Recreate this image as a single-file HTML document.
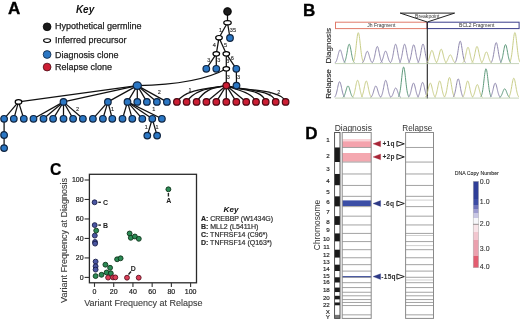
<!DOCTYPE html>
<html><head><meta charset="utf-8"><style>
html,body{margin:0;padding:0;background:#fff;}
body{width:520px;height:321px;overflow:hidden;}
svg{display:block;font-family:"Liberation Sans", sans-serif;will-change:transform;}
</style></head><body>
<svg width="520" height="321" viewBox="0 0 520 321" font-family='"Liberation Sans", sans-serif'>
<rect width="520" height="321" fill="#fff"/>
<text x="8.00" y="13.70" font-size="17.0" fill="#000" font-weight="bold" font-style="normal" text-anchor="start" stroke="#000" stroke-width="0.35" >A</text>
<text x="75.90" y="12.70" font-size="10" fill="#111" font-weight="bold" font-style="italic" text-anchor="start" >Key</text>
<circle cx="47.1" cy="26.8" r="3.9" fill="#1a1a1a" stroke="#000" stroke-width="0.8"/>
<ellipse cx="47.1" cy="40.6" rx="3.5" ry="1.85" fill="#fff" stroke="#000" stroke-width="1.1"/>
<circle cx="47.1" cy="54.5" r="3.9" fill="#2b77c4" stroke="#0f2440" stroke-width="0.8"/>
<circle cx="47.1" cy="67.05" r="3.9" fill="#cc1e34" stroke="#4a0a14" stroke-width="0.8"/>
<text x="55.00" y="28.90" font-size="9" fill="#1e1e1e" font-weight="normal" font-style="normal" text-anchor="start" stroke="#1e1e1e" stroke-width="0.25" >Hypothetical germline</text>
<text x="55.00" y="43.30" font-size="9" fill="#1e1e1e" font-weight="normal" font-style="normal" text-anchor="start" stroke="#1e1e1e" stroke-width="0.25" >Inferred precursor</text>
<text x="55.00" y="57.90" font-size="9" fill="#1e1e1e" font-weight="normal" font-style="normal" text-anchor="start" stroke="#1e1e1e" stroke-width="0.25" >Diagnosis clone</text>
<text x="55.00" y="69.90" font-size="9" fill="#1e1e1e" font-weight="normal" font-style="normal" text-anchor="start" stroke="#1e1e1e" stroke-width="0.25" >Relapse clone</text>
<g stroke="#111" stroke-width="1.25" fill="none"><line x1="227.5" y1="11.4" x2="227.5" y2="22.7"/><line x1="227.5" y1="22.7" x2="219" y2="37.7"/><line x1="227.5" y1="22.7" x2="230" y2="38"/><line x1="219" y1="37.7" x2="216.3" y2="53.8"/><line x1="219" y1="37.7" x2="226.3" y2="53.8"/><line x1="216.3" y1="53.8" x2="206.3" y2="68.8"/><line x1="216.3" y1="53.8" x2="216.3" y2="68.8"/><line x1="226.3" y1="53.8" x2="226.3" y2="68.8"/><line x1="226.3" y1="53.8" x2="236.3" y2="68.8"/><line x1="226.3" y1="68.8" x2="226.3" y2="85.6"/><line x1="236.3" y1="68.8" x2="236.5" y2="85.6"/><path d="M137.3,85.6 Q198,84.6 226.3,68.8"/><line x1="137.3" y1="85.6" x2="18.5" y2="101.9"/><line x1="137.3" y1="85.6" x2="63.5" y2="101.9"/><line x1="137.3" y1="85.6" x2="107.9" y2="101.9"/><line x1="137.3" y1="85.6" x2="127.5" y2="101.9"/><line x1="137.3" y1="85.6" x2="137.3" y2="101.9"/><line x1="137.3" y1="85.6" x2="146.9" y2="101.9"/><line x1="137.3" y1="85.6" x2="156.9" y2="101.9"/><line x1="137.3" y1="85.6" x2="166.9" y2="101.9"/><line x1="18.5" y1="101.9" x2="4.1" y2="118.8"/><line x1="18.5" y1="101.9" x2="13.8" y2="118.8"/><line x1="18.5" y1="101.9" x2="23.8" y2="118.8"/><line x1="4.1" y1="118.8" x2="4.1" y2="135"/><line x1="4.1" y1="135" x2="4.1" y2="148.1"/><line x1="63.5" y1="101.9" x2="33.5" y2="118.8"/><line x1="63.5" y1="101.9" x2="43.5" y2="118.8"/><line x1="63.5" y1="101.9" x2="53.1" y2="118.8"/><line x1="63.5" y1="101.9" x2="63.5" y2="118.8"/><line x1="63.5" y1="101.9" x2="73.1" y2="118.8"/><line x1="63.5" y1="101.9" x2="82.9" y2="118.8"/><line x1="107.9" y1="101.9" x2="92.9" y2="118.8"/><line x1="107.9" y1="101.9" x2="102.9" y2="118.8"/><line x1="107.9" y1="101.9" x2="112.3" y2="118.8"/><line x1="127.5" y1="101.9" x2="122.5" y2="118.8"/><line x1="127.5" y1="101.9" x2="132.3" y2="118.8"/><line x1="127.5" y1="101.9" x2="142.3" y2="118.8"/><line x1="127.5" y1="101.9" x2="152.3" y2="118.8"/><line x1="127.5" y1="101.9" x2="161.9" y2="118.8"/><line x1="152.3" y1="118.8" x2="147.3" y2="135.6"/><line x1="152.3" y1="118.8" x2="157.1" y2="135.6"/><path d="M226.3,85.6 C214,88.2 185.9,88.0 176.9,101.9"/><path d="M226.3,85.6 C214,88.2 195.6,88.0 186.6,101.9"/><path d="M226.3,85.6 C214,88.2 205.6,88.0 196.6,101.9"/><line x1="226.3" y1="85.6" x2="206.4" y2="101.9"/><line x1="226.3" y1="85.6" x2="216.3" y2="101.9"/><line x1="226.3" y1="85.6" x2="226.3" y2="101.9"/><line x1="226.3" y1="85.6" x2="236.3" y2="101.9"/><line x1="226.3" y1="85.6" x2="246.2" y2="101.9"/><path d="M226.3,85.6 C236,90 252.0,92 256.0,101.9"/><path d="M226.3,85.6 C240,90.8 262.7,88.6 265.7,101.9"/><path d="M226.3,85.6 C240,90.8 272.7,88.6 275.7,101.9"/><path d="M226.3,85.6 C240,90.8 282.6,88.6 285.6,101.9"/></g>
<circle cx="227.5" cy="11.4" r="3.7" fill="#1c1c1c" stroke="#000" stroke-width="1.1"/><ellipse cx="227.5" cy="22.7" rx="3.7" ry="2.1" fill="#fff" stroke="#000" stroke-width="1.25"/><ellipse cx="219" cy="37.7" rx="3.3" ry="2.2" fill="#fff" stroke="#000" stroke-width="1.2"/><circle cx="230" cy="38" r="3.3" fill="#2b77c4" stroke="#0f2440" stroke-width="1.2"/><ellipse cx="216.3" cy="53.8" rx="3.3" ry="2.2" fill="#fff" stroke="#000" stroke-width="1.2"/><ellipse cx="226.3" cy="53.8" rx="3.3" ry="2.2" fill="#fff" stroke="#000" stroke-width="1.2"/><circle cx="206.3" cy="68.8" r="3.3" fill="#2b77c4" stroke="#0f2440" stroke-width="1.2"/><circle cx="216.3" cy="68.8" r="3.3" fill="#2b77c4" stroke="#0f2440" stroke-width="1.2"/><ellipse cx="226.3" cy="68.8" rx="3.3" ry="2.2" fill="#fff" stroke="#000" stroke-width="1.2"/><circle cx="236.3" cy="68.8" r="3.3" fill="#2b77c4" stroke="#0f2440" stroke-width="1.2"/><circle cx="226.3" cy="85.6" r="3.3" fill="#cc1e34" stroke="#4a0a14" stroke-width="1.2"/><circle cx="236.5" cy="85.6" r="3.3" fill="#2b77c4" stroke="#0f2440" stroke-width="1.2"/><ellipse cx="137.3" cy="85.6" rx="4.1" ry="3.7" fill="#2b77c4" stroke="#0f2440" stroke-width="1.2"/><ellipse cx="18.5" cy="101.9" rx="3.3" ry="2.2" fill="#fff" stroke="#000" stroke-width="1.2"/><circle cx="63.5" cy="101.9" r="3.3" fill="#2b77c4" stroke="#0f2440" stroke-width="1.2"/><circle cx="107.9" cy="101.9" r="3.3" fill="#2b77c4" stroke="#0f2440" stroke-width="1.2"/><circle cx="127.5" cy="101.9" r="3.3" fill="#2b77c4" stroke="#0f2440" stroke-width="1.2"/><circle cx="137.3" cy="101.9" r="3.3" fill="#2b77c4" stroke="#0f2440" stroke-width="1.2"/><circle cx="146.9" cy="101.9" r="3.3" fill="#2b77c4" stroke="#0f2440" stroke-width="1.2"/><circle cx="156.9" cy="101.9" r="3.3" fill="#2b77c4" stroke="#0f2440" stroke-width="1.2"/><circle cx="166.9" cy="101.9" r="3.3" fill="#2b77c4" stroke="#0f2440" stroke-width="1.2"/><circle cx="4.1" cy="118.8" r="3.3" fill="#2b77c4" stroke="#0f2440" stroke-width="1.2"/><circle cx="13.8" cy="118.8" r="3.3" fill="#2b77c4" stroke="#0f2440" stroke-width="1.2"/><circle cx="23.8" cy="118.8" r="3.3" fill="#2b77c4" stroke="#0f2440" stroke-width="1.2"/><circle cx="33.5" cy="118.8" r="3.3" fill="#2b77c4" stroke="#0f2440" stroke-width="1.2"/><circle cx="43.5" cy="118.8" r="3.3" fill="#2b77c4" stroke="#0f2440" stroke-width="1.2"/><circle cx="53.1" cy="118.8" r="3.3" fill="#2b77c4" stroke="#0f2440" stroke-width="1.2"/><circle cx="63.5" cy="118.8" r="3.3" fill="#2b77c4" stroke="#0f2440" stroke-width="1.2"/><circle cx="73.1" cy="118.8" r="3.3" fill="#2b77c4" stroke="#0f2440" stroke-width="1.2"/><circle cx="82.9" cy="118.8" r="3.3" fill="#2b77c4" stroke="#0f2440" stroke-width="1.2"/><circle cx="92.9" cy="118.8" r="3.3" fill="#2b77c4" stroke="#0f2440" stroke-width="1.2"/><circle cx="102.9" cy="118.8" r="3.3" fill="#2b77c4" stroke="#0f2440" stroke-width="1.2"/><circle cx="112.3" cy="118.8" r="3.3" fill="#2b77c4" stroke="#0f2440" stroke-width="1.2"/><circle cx="122.5" cy="118.8" r="3.3" fill="#2b77c4" stroke="#0f2440" stroke-width="1.2"/><circle cx="132.3" cy="118.8" r="3.3" fill="#2b77c4" stroke="#0f2440" stroke-width="1.2"/><circle cx="142.3" cy="118.8" r="3.3" fill="#2b77c4" stroke="#0f2440" stroke-width="1.2"/><circle cx="152.3" cy="118.8" r="3.3" fill="#2b77c4" stroke="#0f2440" stroke-width="1.2"/><circle cx="161.9" cy="118.8" r="3.3" fill="#2b77c4" stroke="#0f2440" stroke-width="1.2"/><circle cx="4.1" cy="135" r="3.3" fill="#2b77c4" stroke="#0f2440" stroke-width="1.2"/><circle cx="4.1" cy="148.1" r="3.3" fill="#2b77c4" stroke="#0f2440" stroke-width="1.2"/><circle cx="147.3" cy="135.6" r="3.3" fill="#2b77c4" stroke="#0f2440" stroke-width="1.2"/><circle cx="157.1" cy="135.6" r="3.3" fill="#2b77c4" stroke="#0f2440" stroke-width="1.2"/><circle cx="176.9" cy="101.9" r="3.3" fill="#cc1e34" stroke="#4a0a14" stroke-width="1.2"/><circle cx="186.6" cy="101.9" r="3.3" fill="#cc1e34" stroke="#4a0a14" stroke-width="1.2"/><circle cx="196.6" cy="101.9" r="3.3" fill="#cc1e34" stroke="#4a0a14" stroke-width="1.2"/><circle cx="206.4" cy="101.9" r="3.3" fill="#cc1e34" stroke="#4a0a14" stroke-width="1.2"/><circle cx="216.3" cy="101.9" r="3.3" fill="#cc1e34" stroke="#4a0a14" stroke-width="1.2"/><circle cx="226.3" cy="101.9" r="3.3" fill="#cc1e34" stroke="#4a0a14" stroke-width="1.2"/><circle cx="236.3" cy="101.9" r="3.3" fill="#cc1e34" stroke="#4a0a14" stroke-width="1.2"/><circle cx="246.2" cy="101.9" r="3.3" fill="#cc1e34" stroke="#4a0a14" stroke-width="1.2"/><circle cx="256.0" cy="101.9" r="3.3" fill="#cc1e34" stroke="#4a0a14" stroke-width="1.2"/><circle cx="265.7" cy="101.9" r="3.3" fill="#cc1e34" stroke="#4a0a14" stroke-width="1.2"/><circle cx="275.7" cy="101.9" r="3.3" fill="#cc1e34" stroke="#4a0a14" stroke-width="1.2"/><circle cx="285.6" cy="101.9" r="3.3" fill="#cc1e34" stroke="#4a0a14" stroke-width="1.2"/>
<text x="220.6" y="31.8" font-size="5.5" fill="#333" stroke="#333" stroke-width="0.15" text-anchor="middle">1</text><text x="232.9" y="31.8" font-size="5.5" fill="#333" stroke="#333" stroke-width="0.15" text-anchor="middle">35</text><text x="214.4" y="47.4" font-size="5.5" fill="#333" stroke="#333" stroke-width="0.15" text-anchor="middle">4</text><text x="225.6" y="47.4" font-size="5.5" fill="#333" stroke="#333" stroke-width="0.15" text-anchor="middle">5</text><text x="208.8" y="61.8" font-size="5.5" fill="#333" stroke="#333" stroke-width="0.15" text-anchor="middle">3</text><text x="218.8" y="61.8" font-size="5.5" fill="#333" stroke="#333" stroke-width="0.15" text-anchor="middle">3</text><text x="227.9" y="63.4" font-size="5.5" fill="#333" stroke="#333" stroke-width="0.15" text-anchor="middle">3</text><text x="232.3" y="59.9" font-size="5.5" fill="#333" stroke="#333" stroke-width="0.15" text-anchor="middle">6</text><text x="228.3" y="78.7" font-size="5.5" fill="#333" stroke="#333" stroke-width="0.15" text-anchor="middle">3</text><text x="238.6" y="78.7" font-size="5.5" fill="#333" stroke="#333" stroke-width="0.15" text-anchor="middle">3</text><text x="159.4" y="94.3" font-size="5.5" fill="#333" stroke="#333" stroke-width="0.15" text-anchor="middle">2</text><text x="77.5" y="111.2" font-size="5.5" fill="#333" stroke="#333" stroke-width="0.15" text-anchor="middle">2</text><text x="112.5" y="111.2" font-size="5.5" fill="#333" stroke="#333" stroke-width="0.15" text-anchor="middle">1</text><text x="153.8" y="111.2" font-size="5.5" fill="#333" stroke="#333" stroke-width="0.15" text-anchor="middle">1</text><text x="146.3" y="128.70000000000002" font-size="5.5" fill="#333" stroke="#333" stroke-width="0.15" text-anchor="middle">1</text><text x="157.0" y="128.70000000000002" font-size="5.5" fill="#333" stroke="#333" stroke-width="0.15" text-anchor="middle">1</text><text x="190" y="92.39999999999999" font-size="5.5" fill="#333" stroke="#333" stroke-width="0.15" text-anchor="middle">1</text><text x="270" y="96.2" font-size="5.5" fill="#333" stroke="#333" stroke-width="0.15" text-anchor="middle">1</text><text x="278.8" y="94.3" font-size="5.5" fill="#333" stroke="#333" stroke-width="0.15" text-anchor="middle">2</text>
<text x="303.10" y="16.40" font-size="17.0" fill="#000" font-weight="bold" font-style="normal" text-anchor="start" stroke="#000" stroke-width="0.35" >B</text>
<rect x="335.5" y="22.2" width="91.5" height="6.4" fill="#fff" stroke="#e07a6a" stroke-width="1"/>
<rect x="427.3" y="22.2" width="91.8" height="6.4" fill="#fff" stroke="#3a3c8a" stroke-width="1"/>
<text x="381.30" y="27.30" font-size="5" fill="#333" font-weight="normal" font-style="normal" text-anchor="middle" >Jh Fragment</text>
<text x="476.70" y="27.30" font-size="5" fill="#333" font-weight="normal" font-style="normal" text-anchor="middle" >BCL2 Fragment</text>
<path d="M400.2,13.1 L454.6,13.1 L427.3,22.0 Z" fill="#fff" stroke="#222" stroke-width="1"/>
<text x="427.30" y="18.30" font-size="5.1" fill="#333" font-weight="normal" font-style="normal" text-anchor="middle" >Breakpoint</text>
<line x1="427.3" y1="22" x2="427.3" y2="98.6" stroke="#222" stroke-width="1.1"/>
<text transform="translate(331.0,45.8) rotate(-90)" font-size="8.1" fill="#222" stroke="#222" stroke-width="0.12" text-anchor="middle">Diagnosis</text>
<text transform="translate(331.0,84.0) rotate(-90)" font-size="8.1" fill="#222" stroke="#222" stroke-width="0.12" text-anchor="middle">Relapse</text>
<polyline points="334.85,62.87 335.11,62.69 335.38,62.47 335.64,62.17 335.90,61.80 336.16,61.35 336.43,60.79 336.69,60.14 336.95,59.38 337.21,58.53 337.48,57.58 337.74,56.57 338.00,55.51 338.26,54.44 338.53,53.39 338.79,52.41 339.05,51.53 339.31,50.80 339.58,50.26 339.84,49.92 340.10,49.80 340.36,49.92 340.62,50.26 340.89,50.80 341.15,51.53 341.41,52.41 341.68,53.39 341.94,54.44 342.20,55.51 342.46,56.57 342.73,57.58 342.99,58.53 343.25,59.38 343.51,60.14 343.78,60.79 344.04,61.35 344.30,61.80 344.56,62.17 344.83,62.47 345.09,62.69 345.35,62.87" fill="none" stroke="#8f88ae" stroke-width="1.0"/><polyline points="343.95,62.69 344.21,62.44 344.47,62.12 344.74,61.71 345.00,61.18 345.26,60.54 345.52,59.76 345.79,58.83 346.05,57.76 346.31,56.55 346.57,55.21 346.84,53.78 347.10,52.28 347.36,50.76 347.62,49.28 347.89,47.89 348.15,46.65 348.41,45.62 348.68,44.85 348.94,44.36 349.20,44.20 349.46,44.36 349.72,44.85 349.99,45.62 350.25,46.65 350.51,47.89 350.77,49.28 351.04,50.76 351.30,52.28 351.56,53.78 351.82,55.21 352.09,56.55 352.35,57.76 352.61,58.83 352.88,59.76 353.14,60.54 353.40,61.18 353.66,61.71 353.93,62.12 354.19,62.44 354.45,62.69" fill="none" stroke="#5f9a7c" stroke-width="1.0"/><polyline points="353.05,62.32 353.31,61.92 353.57,61.41 353.84,60.75 354.10,59.91 354.36,58.87 354.62,57.62 354.89,56.14 355.15,54.42 355.41,52.48 355.68,50.34 355.94,48.05 356.20,45.65 356.46,43.22 356.73,40.84 356.99,38.62 357.25,36.63 357.51,34.98 357.78,33.73 358.04,32.96 358.30,32.70 358.56,32.96 358.82,33.73 359.09,34.98 359.35,36.63 359.61,38.62 359.88,40.84 360.14,43.22 360.40,45.65 360.66,48.05 360.93,50.34 361.19,52.48 361.45,54.42 361.71,56.14 361.98,57.62 362.24,58.87 362.50,59.91 362.76,60.75 363.03,61.41 363.29,61.92 363.55,62.32" fill="none" stroke="#c9ce88" stroke-width="1.0"/><polyline points="362.05,62.91 362.31,62.76 362.57,62.56 362.84,62.30 363.10,61.97 363.36,61.56 363.62,61.07 363.89,60.49 364.15,59.82 364.41,59.06 364.68,58.22 364.94,57.32 365.20,56.38 365.46,55.42 365.73,54.49 365.99,53.62 366.25,52.84 366.51,52.19 366.78,51.71 367.04,51.40 367.30,51.30 367.56,51.40 367.82,51.71 368.09,52.19 368.35,52.84 368.61,53.62 368.88,54.49 369.14,55.42 369.40,56.38 369.66,57.32 369.93,58.22 370.19,59.06 370.45,59.82 370.71,60.49 370.98,61.07 371.24,61.56 371.50,61.97 371.76,62.30 372.03,62.56 372.29,62.76 372.55,62.91" fill="none" stroke="#8f88ae" stroke-width="1.0"/><polyline points="372.05,62.76 372.31,62.54 372.57,62.26 372.84,61.90 373.10,61.44 373.36,60.87 373.62,60.18 373.89,59.37 374.15,58.43 374.41,57.36 374.68,56.19 374.94,54.92 375.20,53.61 375.46,52.27 375.73,50.97 375.99,49.75 376.25,48.66 376.51,47.75 376.78,47.07 377.04,46.64 377.30,46.50 377.56,46.64 377.82,47.07 378.09,47.75 378.35,48.66 378.61,49.75 378.88,50.97 379.14,52.27 379.40,53.61 379.66,54.92 379.93,56.19 380.19,57.36 380.45,58.43 380.71,59.37 380.98,60.18 381.24,60.87 381.50,61.44 381.76,61.90 382.03,62.26 382.29,62.54 382.55,62.76" fill="none" stroke="#8f88ae" stroke-width="1.0"/><polyline points="380.35,62.91 380.61,62.75 380.88,62.55 381.14,62.28 381.40,61.95 381.66,61.54 381.93,61.04 382.19,60.44 382.45,59.76 382.71,58.99 382.98,58.13 383.24,57.22 383.50,56.26 383.76,55.29 384.03,54.35 384.29,53.46 384.55,52.67 384.81,52.01 385.08,51.51 385.34,51.20 385.60,51.10 385.86,51.20 386.12,51.51 386.39,52.01 386.65,52.67 386.91,53.46 387.18,54.35 387.44,55.29 387.70,56.26 387.96,57.22 388.23,58.13 388.49,58.99 388.75,59.76 389.01,60.44 389.28,61.04 389.54,61.54 389.80,61.95 390.06,62.28 390.33,62.55 390.59,62.75 390.85,62.91" fill="none" stroke="#8f88ae" stroke-width="1.0"/><polyline points="390.35,62.69 390.61,62.44 390.88,62.12 391.14,61.71 391.40,61.18 391.66,60.54 391.93,59.76 392.19,58.83 392.45,57.76 392.71,56.55 392.98,55.21 393.24,53.78 393.50,52.28 393.76,50.76 394.03,49.28 394.29,47.89 394.55,46.65 394.81,45.62 395.08,44.85 395.34,44.36 395.60,44.20 395.86,44.36 396.12,44.85 396.39,45.62 396.65,46.65 396.91,47.89 397.18,49.28 397.44,50.76 397.70,52.28 397.96,53.78 398.23,55.21 398.49,56.55 398.75,57.76 399.01,58.83 399.28,59.76 399.54,60.54 399.80,61.18 400.06,61.71 400.33,62.12 400.59,62.44 400.85,62.69" fill="none" stroke="#8f88ae" stroke-width="1.0"/><polyline points="399.35,62.69 399.61,62.44 399.88,62.12 400.14,61.71 400.40,61.18 400.66,60.54 400.93,59.76 401.19,58.83 401.45,57.76 401.71,56.55 401.98,55.21 402.24,53.78 402.50,52.28 402.76,50.76 403.03,49.28 403.29,47.89 403.55,46.65 403.81,45.62 404.08,44.85 404.34,44.36 404.60,44.20 404.86,44.36 405.12,44.85 405.39,45.62 405.65,46.65 405.91,47.89 406.18,49.28 406.44,50.76 406.70,52.28 406.96,53.78 407.23,55.21 407.49,56.55 407.75,57.76 408.01,58.83 408.28,59.76 408.54,60.54 408.80,61.18 409.06,61.71 409.33,62.12 409.59,62.44 409.85,62.69" fill="none" stroke="#8f88ae" stroke-width="1.0"/><polyline points="408.45,62.71 408.71,62.47 408.97,62.16 409.24,61.76 409.50,61.25 409.76,60.62 410.02,59.87 410.29,58.97 410.55,57.93 410.81,56.76 411.07,55.47 411.34,54.08 411.60,52.63 411.86,51.16 412.12,49.72 412.39,48.38 412.65,47.18 412.91,46.18 413.18,45.43 413.44,44.96 413.70,44.80 413.96,44.96 414.22,45.43 414.49,46.18 414.75,47.18 415.01,48.38 415.27,49.72 415.54,51.16 415.80,52.63 416.06,54.08 416.32,55.47 416.59,56.76 416.85,57.93 417.11,58.97 417.38,59.87 417.64,60.62 417.90,61.25 418.16,61.76 418.43,62.16 418.69,62.47 418.95,62.71" fill="none" stroke="#8f88ae" stroke-width="1.0"/><polyline points="417.75,62.68 418.01,62.43 418.27,62.11 418.54,61.69 418.80,61.16 419.06,60.51 419.32,59.72 419.59,58.78 419.85,57.70 420.11,56.48 420.38,55.13 420.64,53.68 420.90,52.16 421.16,50.63 421.43,49.14 421.69,47.73 421.95,46.48 422.21,45.44 422.48,44.65 422.74,44.17 423.00,44.00 423.26,44.17 423.52,44.65 423.79,45.44 424.05,46.48 424.31,47.73 424.57,49.14 424.84,50.63 425.10,52.16 425.36,53.68 425.62,55.13 425.89,56.48 426.15,57.70 426.41,58.78 426.68,59.72 426.94,60.51 427.20,61.16 427.46,61.69 427.73,62.11 427.99,62.43 428.25,62.68" fill="none" stroke="#8f88ae" stroke-width="1.0"/><polyline points="426.65,62.89 426.91,62.72 427.17,62.50 427.44,62.22 427.70,61.87 427.96,61.43 428.22,60.91 428.49,60.28 428.75,59.56 429.01,58.74 429.27,57.84 429.54,56.87 429.80,55.86 430.06,54.83 430.32,53.83 430.59,52.89 430.85,52.06 431.11,51.36 431.38,50.84 431.64,50.51 431.90,50.40 432.16,50.51 432.42,50.84 432.69,51.36 432.95,52.06 433.21,52.89 433.47,53.83 433.74,54.83 434.00,55.86 434.26,56.87 434.52,57.84 434.79,58.74 435.05,59.56 435.31,60.28 435.57,60.91 435.84,61.43 436.10,61.87 436.36,62.22 436.62,62.50 436.89,62.72 437.15,62.89" fill="none" stroke="#c9ce88" stroke-width="1.0"/><polyline points="435.95,62.85 436.21,62.67 436.47,62.43 436.74,62.12 437.00,61.74 437.26,61.26 437.52,60.68 437.79,60.00 438.05,59.21 438.31,58.32 438.57,57.33 438.84,56.27 439.10,55.17 439.36,54.05 439.62,52.95 439.89,51.93 440.15,51.01 440.41,50.25 440.68,49.68 440.94,49.32 441.20,49.20 441.46,49.32 441.72,49.68 441.99,50.25 442.25,51.01 442.51,51.93 442.77,52.95 443.04,54.05 443.30,55.17 443.56,56.27 443.82,57.33 444.09,58.32 444.35,59.21 444.61,60.00 444.88,60.68 445.14,61.26 445.40,61.74 445.66,62.12 445.93,62.43 446.19,62.67 446.45,62.85" fill="none" stroke="#c9ce88" stroke-width="1.0"/><polyline points="445.05,63.03 445.31,62.92 445.57,62.77 445.84,62.59 446.10,62.36 446.36,62.07 446.62,61.72 446.89,61.31 447.15,60.83 447.41,60.30 447.68,59.70 447.94,59.06 448.20,58.40 448.46,57.72 448.73,57.06 448.99,56.44 449.25,55.89 449.51,55.43 449.78,55.09 450.04,54.87 450.30,54.80 450.56,54.87 450.82,55.09 451.09,55.43 451.35,55.89 451.61,56.44 451.88,57.06 452.14,57.72 452.40,58.40 452.66,59.06 452.93,59.70 453.19,60.30 453.45,60.83 453.71,61.31 453.98,61.72 454.24,62.07 454.50,62.36 454.76,62.59 455.03,62.77 455.29,62.92 455.55,63.03" fill="none" stroke="#c9ce88" stroke-width="1.0"/><polyline points="454.95,62.59 455.21,62.30 455.47,61.93 455.74,61.45 456.00,60.84 456.26,60.09 456.52,59.18 456.79,58.10 457.05,56.86 457.31,55.45 457.57,53.90 457.84,52.23 458.10,50.49 458.36,48.73 458.62,47.01 458.89,45.39 459.15,43.95 459.41,42.75 459.68,41.85 459.94,41.29 460.20,41.10 460.46,41.29 460.72,41.85 460.99,42.75 461.25,43.95 461.51,45.39 461.77,47.01 462.04,48.73 462.30,50.49 462.56,52.23 462.82,53.90 463.09,55.45 463.35,56.86 463.61,58.10 463.88,59.18 464.14,60.09 464.40,60.84 464.66,61.45 464.93,61.93 465.19,62.30 465.45,62.59" fill="none" stroke="#8f88ae" stroke-width="1.0"/><polyline points="462.75,62.79 463.01,62.58 463.27,62.31 463.54,61.96 463.80,61.53 464.06,60.99 464.32,60.33 464.59,59.56 464.85,58.66 465.11,57.64 465.38,56.53 465.64,55.32 465.90,54.07 466.16,52.80 466.43,51.56 466.69,50.39 466.95,49.36 467.21,48.49 467.48,47.84 467.74,47.44 468.00,47.30 468.26,47.44 468.52,47.84 468.79,48.49 469.05,49.36 469.31,50.39 469.57,51.56 469.84,52.80 470.10,54.07 470.36,55.32 470.62,56.53 470.89,57.64 471.15,58.66 471.41,59.56 471.68,60.33 471.94,60.99 472.20,61.53 472.46,61.96 472.73,62.31 472.99,62.58 473.25,62.79" fill="none" stroke="#c9ce88" stroke-width="1.0"/><polyline points="471.75,62.76 472.01,62.54 472.27,62.26 472.54,61.90 472.80,61.44 473.06,60.87 473.32,60.18 473.59,59.37 473.85,58.43 474.11,57.36 474.38,56.19 474.64,54.92 474.90,53.61 475.16,52.27 475.43,50.97 475.69,49.75 475.95,48.66 476.21,47.75 476.48,47.07 476.74,46.64 477.00,46.50 477.26,46.64 477.52,47.07 477.79,47.75 478.05,48.66 478.31,49.75 478.57,50.97 478.84,52.27 479.10,53.61 479.36,54.92 479.62,56.19 479.89,57.36 480.15,58.43 480.41,59.37 480.68,60.18 480.94,60.87 481.20,61.44 481.46,61.90 481.73,62.26 481.99,62.54 482.25,62.76" fill="none" stroke="#c9ce88" stroke-width="1.0"/><polyline points="481.15,62.93 481.41,62.79 481.67,62.60 481.94,62.35 482.20,62.04 482.46,61.65 482.72,61.18 482.99,60.63 483.25,59.99 483.51,59.27 483.77,58.47 484.04,57.62 484.30,56.72 484.56,55.82 484.82,54.93 485.09,54.10 485.35,53.36 485.61,52.75 485.88,52.29 486.14,52.00 486.40,51.90 486.66,52.00 486.92,52.29 487.19,52.75 487.45,53.36 487.71,54.10 487.97,54.93 488.24,55.82 488.50,56.72 488.76,57.62 489.02,58.47 489.29,59.27 489.55,59.99 489.81,60.63 490.07,61.18 490.34,61.65 490.60,62.04 490.86,62.35 491.12,62.60 491.39,62.79 491.65,62.93" fill="none" stroke="#c9ce88" stroke-width="1.0"/><polyline points="490.95,62.63 491.21,62.37 491.47,62.02 491.74,61.57 492.00,61.01 492.26,60.31 492.52,59.46 492.79,58.46 493.05,57.29 493.31,55.98 493.57,54.54 493.84,52.98 494.10,51.36 494.36,49.71 494.62,48.11 494.89,46.60 495.15,45.26 495.41,44.14 495.68,43.30 495.94,42.78 496.20,42.60 496.46,42.78 496.72,43.30 496.99,44.14 497.25,45.26 497.51,46.60 497.77,48.11 498.04,49.71 498.30,51.36 498.56,52.98 498.82,54.54 499.09,55.98 499.35,57.29 499.61,58.46 499.88,59.46 500.14,60.31 500.40,61.01 500.66,61.57 500.93,62.02 501.19,62.37 501.45,62.63" fill="none" stroke="#8f88ae" stroke-width="1.0"/><polyline points="500.25,62.70 500.51,62.46 500.77,62.14 501.04,61.74 501.30,61.23 501.56,60.60 501.82,59.83 502.09,58.92 502.35,57.87 502.61,56.69 502.88,55.38 503.14,53.98 503.40,52.51 503.66,51.03 503.93,49.58 504.19,48.22 504.45,47.00 504.71,45.99 504.98,45.23 505.24,44.76 505.50,44.60 505.76,44.76 506.02,45.23 506.29,45.99 506.55,47.00 506.81,48.22 507.07,49.58 507.34,51.03 507.60,52.51 507.86,53.98 508.12,55.38 508.39,56.69 508.65,57.87 508.91,58.92 509.18,59.83 509.44,60.60 509.70,61.23 509.96,61.74 510.23,62.14 510.49,62.46 510.75,62.70" fill="none" stroke="#5f9a7c" stroke-width="1.0"/><polyline points="509.65,62.31 509.91,61.92 510.17,61.40 510.44,60.73 510.70,59.89 510.96,58.85 511.22,57.58 511.49,56.09 511.75,54.36 512.01,52.41 512.27,50.26 512.54,47.95 512.80,45.53 513.06,43.09 513.32,40.70 513.59,38.45 513.85,36.46 514.11,34.79 514.38,33.54 514.64,32.76 514.90,32.50 515.16,32.76 515.42,33.54 515.69,34.79 515.95,36.46 516.21,38.45 516.48,40.70 516.74,43.09 517.00,45.53 517.26,47.95 517.52,50.26 517.79,52.41 518.05,54.36 518.31,56.09 518.57,57.58 518.84,58.85 519.10,59.89 519.36,60.73 519.62,61.40 519.89,61.92 520.15,62.31" fill="none" stroke="#c9ce88" stroke-width="1.0"/><line x1="335" y1="63.599999999999994" x2="519" y2="63.599999999999994" stroke="#b8c8a8" stroke-width="0.8"/>
<polyline points="334.35,97.28 334.61,97.08 334.88,96.81 335.14,96.46 335.40,96.02 335.66,95.47 335.93,94.81 336.19,94.03 336.45,93.13 336.71,92.11 336.98,90.98 337.24,89.77 337.50,88.51 337.76,87.23 338.03,85.98 338.29,84.81 338.55,83.77 338.81,82.90 339.08,82.24 339.34,81.84 339.60,81.70 339.86,81.84 340.12,82.24 340.39,82.90 340.65,83.77 340.91,84.81 341.18,85.98 341.44,87.23 341.70,88.51 341.96,89.77 342.23,90.98 342.49,92.11 342.75,93.13 343.01,94.03 343.28,94.81 343.54,95.47 343.80,96.02 344.06,96.46 344.33,96.81 344.59,97.08 344.85,97.28" fill="none" stroke="#8f88ae" stroke-width="1.0"/><polyline points="342.75,97.42 343.01,97.27 343.27,97.06 343.54,96.81 343.80,96.48 344.06,96.08 344.32,95.59 344.59,95.02 344.85,94.35 345.11,93.59 345.38,92.76 345.64,91.87 345.90,90.93 346.16,89.99 346.43,89.07 346.69,88.20 346.95,87.43 347.21,86.79 347.48,86.30 347.74,86.00 348.00,85.90 348.26,86.00 348.52,86.30 348.79,86.79 349.05,87.43 349.31,88.20 349.57,89.07 349.84,89.99 350.10,90.93 350.36,91.87 350.62,92.76 350.89,93.59 351.15,94.35 351.41,95.02 351.68,95.59 351.94,96.08 352.20,96.48 352.46,96.81 352.73,97.06 352.99,97.27 353.25,97.42" fill="none" stroke="#5f9a7c" stroke-width="1.0"/><polyline points="352.35,97.24 352.61,97.01 352.88,96.72 353.14,96.34 353.40,95.86 353.66,95.27 353.93,94.55 354.19,93.70 354.45,92.72 354.71,91.61 354.98,90.39 355.24,89.08 355.50,87.70 355.76,86.31 356.03,84.96 356.29,83.68 356.55,82.55 356.81,81.60 357.08,80.89 357.34,80.45 357.60,80.30 357.86,80.45 358.12,80.89 358.39,81.60 358.65,82.55 358.91,83.68 359.18,84.96 359.44,86.31 359.70,87.70 359.96,89.08 360.23,90.39 360.49,91.61 360.75,92.72 361.01,93.70 361.28,94.55 361.54,95.27 361.80,95.86 362.06,96.34 362.33,96.72 362.59,97.01 362.85,97.24" fill="none" stroke="#c9ce88" stroke-width="1.0"/><polyline points="361.05,97.26 361.31,97.04 361.57,96.76 361.84,96.40 362.10,95.94 362.36,95.37 362.62,94.68 362.89,93.87 363.15,92.93 363.41,91.86 363.68,90.69 363.94,89.42 364.20,88.11 364.46,86.77 364.73,85.47 364.99,84.25 365.25,83.16 365.51,82.25 365.78,81.57 366.04,81.14 366.30,81.00 366.56,81.14 366.82,81.57 367.09,82.25 367.35,83.16 367.61,84.25 367.88,85.47 368.14,86.77 368.40,88.11 368.66,89.42 368.93,90.69 369.19,91.86 369.45,92.93 369.71,93.87 369.98,94.68 370.24,95.37 370.50,95.94 370.76,96.40 371.03,96.76 371.29,97.04 371.55,97.26" fill="none" stroke="#c9ce88" stroke-width="1.0"/><polyline points="370.55,97.42 370.81,97.27 371.07,97.07 371.34,96.82 371.60,96.49 371.86,96.09 372.12,95.61 372.39,95.04 372.65,94.38 372.91,93.63 373.18,92.80 373.44,91.92 373.70,90.99 373.96,90.06 374.23,89.14 374.49,88.28 374.75,87.52 375.01,86.88 375.28,86.40 375.54,86.10 375.80,86.00 376.06,86.10 376.32,86.40 376.59,86.88 376.85,87.52 377.11,88.28 377.38,89.14 377.64,90.06 377.90,90.99 378.16,91.92 378.43,92.80 378.69,93.63 378.95,94.38 379.21,95.04 379.48,95.61 379.74,96.09 380.00,96.49 380.26,96.82 380.53,97.07 380.79,97.27 381.05,97.42" fill="none" stroke="#8f88ae" stroke-width="1.0"/><polyline points="380.45,97.24 380.71,97.01 380.97,96.72 381.24,96.34 381.50,95.86 381.76,95.27 382.02,94.55 382.29,93.70 382.55,92.72 382.81,91.61 383.07,90.39 383.34,89.08 383.60,87.70 383.86,86.31 384.12,84.96 384.39,83.68 384.65,82.55 384.91,81.60 385.18,80.89 385.44,80.45 385.70,80.30 385.96,80.45 386.22,80.89 386.49,81.60 386.75,82.55 387.01,83.68 387.27,84.96 387.54,86.31 387.80,87.70 388.06,89.08 388.32,90.39 388.59,91.61 388.85,92.72 389.11,93.70 389.38,94.55 389.64,95.27 389.90,95.86 390.16,96.34 390.43,96.72 390.69,97.01 390.95,97.24" fill="none" stroke="#8f88ae" stroke-width="1.0"/><polyline points="390.45,97.48 390.71,97.36 390.97,97.19 391.24,96.98 391.50,96.71 391.76,96.38 392.02,95.98 392.29,95.51 392.55,94.96 392.81,94.34 393.07,93.65 393.34,92.91 393.60,92.15 393.86,91.37 394.12,90.61 394.39,89.89 394.65,89.26 394.91,88.73 395.18,88.33 395.44,88.08 395.70,88.00 395.96,88.08 396.22,88.33 396.49,88.73 396.75,89.26 397.01,89.89 397.27,90.61 397.54,91.37 397.80,92.15 398.06,92.91 398.32,93.65 398.59,94.34 398.85,94.96 399.11,95.51 399.38,95.98 399.64,96.38 399.90,96.71 400.16,96.98 400.43,97.19 400.69,97.36 400.95,97.48" fill="none" stroke="#8f88ae" stroke-width="1.0"/><polyline points="398.35,96.81 398.61,96.42 398.88,95.90 399.14,95.23 399.40,94.39 399.66,93.35 399.93,92.08 400.19,90.59 400.45,88.86 400.71,86.91 400.98,84.76 401.24,82.45 401.50,80.03 401.76,77.59 402.03,75.20 402.29,72.95 402.55,70.96 402.81,69.29 403.08,68.04 403.34,67.26 403.60,67.00 403.86,67.26 404.12,68.04 404.39,69.29 404.65,70.96 404.91,72.95 405.18,75.20 405.44,77.59 405.70,80.03 405.96,82.45 406.23,84.76 406.49,86.91 406.75,88.86 407.01,90.59 407.28,92.08 407.54,93.35 407.80,94.39 408.06,95.23 408.33,95.90 408.59,96.42 408.85,96.81" fill="none" stroke="#5f9a7c" stroke-width="1.0"/><polyline points="408.25,97.33 408.51,97.14 408.77,96.89 409.04,96.57 409.30,96.17 409.56,95.67 409.82,95.07 410.09,94.36 410.35,93.54 410.61,92.60 410.88,91.58 411.14,90.47 411.40,89.32 411.66,88.15 411.93,87.01 412.19,85.94 412.45,84.99 412.71,84.19 412.98,83.60 413.24,83.23 413.50,83.10 413.76,83.23 414.02,83.60 414.29,84.19 414.55,84.99 414.81,85.94 415.07,87.01 415.34,88.15 415.60,89.32 415.86,90.47 416.12,91.58 416.39,92.60 416.65,93.54 416.91,94.36 417.18,95.07 417.44,95.67 417.70,96.17 417.96,96.57 418.23,96.89 418.49,97.14 418.75,97.33" fill="none" stroke="#8f88ae" stroke-width="1.0"/><polyline points="417.35,97.30 417.61,97.11 417.88,96.85 418.14,96.51 418.40,96.09 418.66,95.57 418.93,94.94 419.19,94.20 419.45,93.33 419.71,92.36 419.98,91.28 420.24,90.12 420.50,88.91 420.76,87.69 421.03,86.50 421.29,85.38 421.55,84.38 421.81,83.55 422.08,82.92 422.34,82.53 422.60,82.40 422.86,82.53 423.12,82.92 423.39,83.55 423.65,84.38 423.91,85.38 424.18,86.50 424.44,87.69 424.70,88.91 424.96,90.12 425.23,91.28 425.49,92.36 425.75,93.33 426.01,94.20 426.28,94.94 426.54,95.57 426.80,96.09 427.06,96.51 427.33,96.85 427.59,97.11 427.85,97.30" fill="none" stroke="#8f88ae" stroke-width="1.0"/><polyline points="425.05,97.33 425.31,97.14 425.57,96.89 425.84,96.57 426.10,96.17 426.36,95.67 426.62,95.07 426.89,94.36 427.15,93.54 427.41,92.60 427.68,91.58 427.94,90.47 428.20,89.32 428.46,88.15 428.73,87.01 428.99,85.94 429.25,84.99 429.51,84.19 429.78,83.60 430.04,83.23 430.30,83.10 430.56,83.23 430.82,83.60 431.09,84.19 431.35,84.99 431.61,85.94 431.88,87.01 432.14,88.15 432.40,89.32 432.66,90.47 432.93,91.58 433.19,92.60 433.45,93.54 433.71,94.36 433.98,95.07 434.24,95.67 434.50,96.17 434.76,96.57 435.03,96.89 435.29,97.14 435.55,97.33" fill="none" stroke="#c9ce88" stroke-width="1.0"/><polyline points="434.45,97.26 434.71,97.04 434.97,96.76 435.24,96.40 435.50,95.94 435.76,95.37 436.02,94.68 436.29,93.87 436.55,92.93 436.81,91.86 437.07,90.69 437.34,89.42 437.60,88.11 437.86,86.77 438.12,85.47 438.39,84.25 438.65,83.16 438.91,82.25 439.18,81.57 439.44,81.14 439.70,81.00 439.96,81.14 440.22,81.57 440.49,82.25 440.75,83.16 441.01,84.25 441.27,85.47 441.54,86.77 441.80,88.11 442.06,89.42 442.32,90.69 442.59,91.86 442.85,92.93 443.11,93.87 443.38,94.68 443.64,95.37 443.90,95.94 444.16,96.40 444.43,96.76 444.69,97.04 444.95,97.26" fill="none" stroke="#c9ce88" stroke-width="1.0"/><polyline points="444.25,97.15 444.51,96.89 444.77,96.55 445.04,96.11 445.30,95.55 445.56,94.86 445.82,94.03 446.09,93.05 446.35,91.91 446.61,90.62 446.88,89.20 447.14,87.68 447.40,86.09 447.66,84.48 447.93,82.90 448.19,81.42 448.45,80.11 448.71,79.01 448.98,78.19 449.24,77.67 449.50,77.50 449.76,77.67 450.02,78.19 450.29,79.01 450.55,80.11 450.81,81.42 451.07,82.90 451.34,84.48 451.60,86.09 451.86,87.68 452.12,89.20 452.39,90.62 452.65,91.91 452.91,93.05 453.18,94.03 453.44,94.86 453.70,95.55 453.96,96.11 454.23,96.55 454.49,96.89 454.75,97.15" fill="none" stroke="#c9ce88" stroke-width="1.0"/><polyline points="452.95,97.19 453.21,96.95 453.47,96.63 453.74,96.22 454.00,95.71 454.26,95.07 454.52,94.29 454.79,93.38 455.05,92.32 455.31,91.12 455.57,89.80 455.84,88.38 456.10,86.90 456.36,85.40 456.62,83.93 456.89,82.55 457.15,81.33 457.41,80.31 457.68,79.54 457.94,79.06 458.20,78.90 458.46,79.06 458.72,79.54 458.99,80.31 459.25,81.33 459.51,82.55 459.77,83.93 460.04,85.40 460.30,86.90 460.56,88.38 460.82,89.80 461.09,91.12 461.35,92.32 461.61,93.38 461.88,94.29 462.14,95.07 462.40,95.71 462.66,96.22 462.93,96.63 463.19,96.95 463.45,97.19" fill="none" stroke="#8f88ae" stroke-width="1.0"/><polyline points="462.45,97.26 462.71,97.04 462.97,96.76 463.24,96.40 463.50,95.94 463.76,95.37 464.02,94.68 464.29,93.87 464.55,92.93 464.81,91.86 465.07,90.69 465.34,89.42 465.60,88.11 465.86,86.77 466.12,85.47 466.39,84.25 466.65,83.16 466.91,82.25 467.18,81.57 467.44,81.14 467.70,81.00 467.96,81.14 468.22,81.57 468.49,82.25 468.75,83.16 469.01,84.25 469.27,85.47 469.54,86.77 469.80,88.11 470.06,89.42 470.32,90.69 470.59,91.86 470.85,92.93 471.11,93.87 471.38,94.68 471.64,95.37 471.90,95.94 472.16,96.40 472.43,96.76 472.69,97.04 472.95,97.26" fill="none" stroke="#c9ce88" stroke-width="1.0"/><polyline points="472.05,97.38 472.31,97.21 472.57,96.98 472.84,96.70 473.10,96.34 473.36,95.89 473.62,95.35 473.89,94.71 474.15,93.97 474.41,93.13 474.68,92.21 474.94,91.22 475.20,90.18 475.46,89.14 475.73,88.11 475.99,87.15 476.25,86.30 476.51,85.58 476.78,85.05 477.04,84.71 477.30,84.60 477.56,84.71 477.82,85.05 478.09,85.58 478.35,86.30 478.61,87.15 478.88,88.11 479.14,89.14 479.40,90.18 479.66,91.22 479.93,92.21 480.19,93.13 480.45,93.97 480.71,94.71 480.98,95.35 481.24,95.89 481.50,96.34 481.76,96.70 482.03,96.98 482.29,97.21 482.55,97.38" fill="none" stroke="#c9ce88" stroke-width="1.0"/><polyline points="480.75,96.86 481.01,96.49 481.27,96.00 481.54,95.37 481.80,94.58 482.06,93.59 482.32,92.40 482.59,90.99 482.85,89.36 483.11,87.51 483.38,85.48 483.64,83.29 483.90,81.01 484.16,78.70 484.43,76.44 484.69,74.33 484.95,72.44 485.21,70.87 485.48,69.68 485.74,68.95 486.00,68.70 486.26,68.95 486.52,69.68 486.79,70.87 487.05,72.44 487.31,74.33 487.57,76.44 487.84,78.70 488.10,81.01 488.36,83.29 488.62,85.48 488.89,87.51 489.15,89.36 489.41,90.99 489.68,92.40 489.94,93.59 490.20,94.58 490.46,95.37 490.73,96.00 490.99,96.49 491.25,96.86" fill="none" stroke="#5f9a7c" stroke-width="1.0"/><polyline points="489.95,97.33 490.21,97.14 490.47,96.90 490.74,96.58 491.00,96.18 491.26,95.69 491.52,95.09 491.79,94.38 492.05,93.56 492.31,92.64 492.57,91.62 492.84,90.52 493.10,89.38 493.36,88.22 493.62,87.08 493.89,86.02 494.15,85.08 494.41,84.29 494.68,83.69 494.94,83.32 495.20,83.20 495.46,83.32 495.72,83.69 495.99,84.29 496.25,85.08 496.51,86.02 496.77,87.08 497.04,88.22 497.30,89.38 497.56,90.52 497.82,91.62 498.09,92.64 498.35,93.56 498.61,94.38 498.88,95.09 499.14,95.69 499.40,96.18 499.66,96.58 499.93,96.90 500.19,97.14 500.45,97.33" fill="none" stroke="#8f88ae" stroke-width="1.0"/><polyline points="499.45,97.51 499.71,97.40 499.97,97.24 500.24,97.05 500.50,96.80 500.76,96.50 501.02,96.13 501.29,95.69 501.55,95.19 501.81,94.62 502.07,93.99 502.34,93.31 502.60,92.61 502.86,91.89 503.12,91.19 503.39,90.54 503.65,89.96 503.91,89.47 504.18,89.10 504.44,88.88 504.70,88.80 504.96,88.88 505.22,89.10 505.49,89.47 505.75,89.96 506.01,90.54 506.27,91.19 506.54,91.89 506.80,92.61 507.06,93.31 507.32,93.99 507.59,94.62 507.85,95.19 508.11,95.69 508.38,96.13 508.64,96.50 508.90,96.80 509.16,97.05 509.43,97.24 509.69,97.40 509.95,97.51" fill="none" stroke="#5f9a7c" stroke-width="1.0"/><polyline points="508.55,97.17 508.81,96.92 509.07,96.59 509.34,96.16 509.60,95.63 509.86,94.97 510.12,94.16 510.39,93.21 510.65,92.11 510.91,90.87 511.17,89.50 511.44,88.03 511.70,86.49 511.96,84.94 512.22,83.42 512.49,81.99 512.75,80.72 513.01,79.66 513.27,78.86 513.54,78.37 513.80,78.20 514.06,78.37 514.32,78.86 514.59,79.66 514.85,80.72 515.11,81.99 515.38,83.42 515.64,84.94 515.90,86.49 516.16,88.03 516.42,89.50 516.69,90.87 516.95,92.11 517.21,93.21 517.47,94.16 517.74,94.97 518.00,95.63 518.26,96.16 518.52,96.59 518.79,96.92 519.05,97.17" fill="none" stroke="#c9ce88" stroke-width="1.0"/><line x1="335" y1="98.1" x2="519" y2="98.1" stroke="#b8c8a8" stroke-width="0.8"/>
<text x="50.10" y="174.60" font-size="15.8" fill="#000" font-weight="bold" font-style="normal" text-anchor="start" stroke="#000" stroke-width="0.2" >C</text>
<rect x="89.4" y="174.3" width="107.1" height="108.5" fill="none" stroke="#2a2a2a" stroke-width="1.3"/>
<line x1="84.6" y1="277.40" x2="89.4" y2="277.40" stroke="#333" stroke-width="1.1"/>
<text x="83.60" y="279.70" font-size="7" fill="#222" font-weight="normal" font-style="normal" text-anchor="end" stroke="#222" stroke-width="0.2" >0</text>
<line x1="94.50" y1="282.8" x2="94.50" y2="286.9" stroke="#333" stroke-width="1.1"/>
<text x="94.50" y="293.90" font-size="7" fill="#222" font-weight="normal" font-style="normal" text-anchor="middle" stroke="#222" stroke-width="0.2" >0</text>
<line x1="84.6" y1="257.92" x2="89.4" y2="257.92" stroke="#333" stroke-width="1.1"/>
<text x="83.60" y="260.22" font-size="7" fill="#222" font-weight="normal" font-style="normal" text-anchor="end" stroke="#222" stroke-width="0.2" >20</text>
<line x1="113.72" y1="282.8" x2="113.72" y2="286.9" stroke="#333" stroke-width="1.1"/>
<text x="113.72" y="293.90" font-size="7" fill="#222" font-weight="normal" font-style="normal" text-anchor="middle" stroke="#222" stroke-width="0.2" >20</text>
<line x1="84.6" y1="238.44" x2="89.4" y2="238.44" stroke="#333" stroke-width="1.1"/>
<text x="83.60" y="240.74" font-size="7" fill="#222" font-weight="normal" font-style="normal" text-anchor="end" stroke="#222" stroke-width="0.2" >40</text>
<line x1="132.94" y1="282.8" x2="132.94" y2="286.9" stroke="#333" stroke-width="1.1"/>
<text x="132.94" y="293.90" font-size="7" fill="#222" font-weight="normal" font-style="normal" text-anchor="middle" stroke="#222" stroke-width="0.2" >40</text>
<line x1="84.6" y1="218.96" x2="89.4" y2="218.96" stroke="#333" stroke-width="1.1"/>
<text x="83.60" y="221.26" font-size="7" fill="#222" font-weight="normal" font-style="normal" text-anchor="end" stroke="#222" stroke-width="0.2" >60</text>
<line x1="152.16" y1="282.8" x2="152.16" y2="286.9" stroke="#333" stroke-width="1.1"/>
<text x="152.16" y="293.90" font-size="7" fill="#222" font-weight="normal" font-style="normal" text-anchor="middle" stroke="#222" stroke-width="0.2" >60</text>
<line x1="84.6" y1="199.48" x2="89.4" y2="199.48" stroke="#333" stroke-width="1.1"/>
<text x="83.60" y="201.78" font-size="7" fill="#222" font-weight="normal" font-style="normal" text-anchor="end" stroke="#222" stroke-width="0.2" >80</text>
<line x1="171.38" y1="282.8" x2="171.38" y2="286.9" stroke="#333" stroke-width="1.1"/>
<text x="171.38" y="293.90" font-size="7" fill="#222" font-weight="normal" font-style="normal" text-anchor="middle" stroke="#222" stroke-width="0.2" >80</text>
<line x1="84.6" y1="180.00" x2="89.4" y2="180.00" stroke="#333" stroke-width="1.1"/>
<text x="83.60" y="182.30" font-size="7" fill="#222" font-weight="normal" font-style="normal" text-anchor="end" stroke="#222" stroke-width="0.2" >100</text>
<line x1="190.60" y1="282.8" x2="190.60" y2="286.9" stroke="#333" stroke-width="1.1"/>
<text x="190.60" y="293.90" font-size="7" fill="#222" font-weight="normal" font-style="normal" text-anchor="middle" stroke="#222" stroke-width="0.2" >100</text>
<text transform="translate(67.3,240.5) rotate(-90)" font-size="9" fill="#3c3c3c" stroke="#3c3c3c" stroke-width="0.1" text-anchor="middle">Variant Frequency at Diagnosis</text>
<text x="84.20" y="305.60" font-size="9" fill="#3c3c3c" font-weight="normal" font-style="normal" text-anchor="start" stroke="#3c3c3c" stroke-width="0.1" >Variant Frequency at Relapse</text>
<circle cx="94.6" cy="202.3" r="2.45" fill="#4a56a2" stroke="#161c48" stroke-width="0.9"/>
<circle cx="94.7" cy="225.1" r="2.45" fill="#4a56a2" stroke="#161c48" stroke-width="0.9"/>
<circle cx="94.8" cy="235.6" r="2.45" fill="#4a56a2" stroke="#161c48" stroke-width="0.9"/>
<circle cx="95.0" cy="242.0" r="2.45" fill="#4a56a2" stroke="#161c48" stroke-width="0.9"/>
<circle cx="95.1" cy="243.6" r="2.45" fill="#4a56a2" stroke="#161c48" stroke-width="0.9"/>
<circle cx="95.6" cy="261.6" r="2.45" fill="#4a56a2" stroke="#161c48" stroke-width="0.9"/>
<circle cx="95.6" cy="266.3" r="2.45" fill="#4a56a2" stroke="#161c48" stroke-width="0.9"/>
<circle cx="95.6" cy="269.6" r="2.45" fill="#4a56a2" stroke="#161c48" stroke-width="0.9"/>
<circle cx="96.2" cy="230.6" r="2.45" fill="#2b8a55" stroke="#0c3318" stroke-width="0.9"/>
<circle cx="95.6" cy="276.1" r="2.45" fill="#2b8a55" stroke="#0c3318" stroke-width="0.9"/>
<circle cx="101.5" cy="274.8" r="2.45" fill="#2b8a55" stroke="#0c3318" stroke-width="0.9"/>
<circle cx="105.4" cy="264.7" r="2.45" fill="#2b8a55" stroke="#0c3318" stroke-width="0.9"/>
<circle cx="110.1" cy="267.8" r="2.45" fill="#2b8a55" stroke="#0c3318" stroke-width="0.9"/>
<circle cx="106.6" cy="272.5" r="2.45" fill="#2b8a55" stroke="#0c3318" stroke-width="0.9"/>
<circle cx="110.8" cy="273.3" r="2.45" fill="#2b8a55" stroke="#0c3318" stroke-width="0.9"/>
<circle cx="117.1" cy="259.3" r="2.45" fill="#2b8a55" stroke="#0c3318" stroke-width="0.9"/>
<circle cx="120.6" cy="258.3" r="2.45" fill="#2b8a55" stroke="#0c3318" stroke-width="0.9"/>
<circle cx="129.6" cy="233.5" r="2.45" fill="#2b8a55" stroke="#0c3318" stroke-width="0.9"/>
<circle cx="130.8" cy="237.8" r="2.45" fill="#2b8a55" stroke="#0c3318" stroke-width="0.9"/>
<circle cx="134.9" cy="236.5" r="2.45" fill="#2b8a55" stroke="#0c3318" stroke-width="0.9"/>
<circle cx="138.8" cy="238.8" r="2.45" fill="#2b8a55" stroke="#0c3318" stroke-width="0.9"/>
<circle cx="168.4" cy="189.3" r="2.45" fill="#2b8a55" stroke="#0c3318" stroke-width="0.9"/>
<circle cx="108.1" cy="277.6" r="2.45" fill="#dc4058" stroke="#5a1020" stroke-width="0.9"/>
<circle cx="113.0" cy="277.4" r="2.45" fill="#dc4058" stroke="#5a1020" stroke-width="0.9"/>
<circle cx="115.3" cy="277.4" r="2.45" fill="#dc4058" stroke="#5a1020" stroke-width="0.9"/>
<circle cx="127.0" cy="277.7" r="2.45" fill="#dc4058" stroke="#5a1020" stroke-width="0.9"/>
<circle cx="138.7" cy="277.7" r="2.45" fill="#dc4058" stroke="#5a1020" stroke-width="0.9"/>
<line x1="98.3" y1="202.3" x2="100.9" y2="202.3" stroke="#222" stroke-width="1.4"/>
<text x="102.90" y="204.60" font-size="7" fill="#222" font-weight="bold" font-style="normal" text-anchor="start" >C</text>
<line x1="98.3" y1="225.1" x2="100.9" y2="225.1" stroke="#222" stroke-width="1.4"/>
<text x="102.90" y="227.50" font-size="7" fill="#222" font-weight="bold" font-style="normal" text-anchor="start" >B</text>
<line x1="168.4" y1="193" x2="168.4" y2="196.5" stroke="#222" stroke-width="1.4"/>
<text x="168.70" y="203.20" font-size="7" fill="#222" font-weight="bold" font-style="normal" text-anchor="middle" >A</text>
<line x1="128.5" y1="274.5" x2="131" y2="271.5" stroke="#222" stroke-width="1.4"/>
<text x="133.30" y="271.20" font-size="7" fill="#222" font-weight="bold" font-style="normal" text-anchor="middle" >D</text>
<text x="223.60" y="211.60" font-size="8.1" fill="#111" font-weight="bold" font-style="italic" text-anchor="start" >Key</text>
<text x="200.9" y="221.00" font-size="7" fill="#2c2c2c" stroke="#2c2c2c" stroke-width="0.18"><tspan font-weight="bold" fill="#222">A:</tspan> CREBBP (W1434G)</text>
<text x="200.9" y="229.10" font-size="7" fill="#2c2c2c" stroke="#2c2c2c" stroke-width="0.18"><tspan font-weight="bold" fill="#222">B:</tspan> MLL2 (L5411H)</text>
<text x="200.9" y="237.20" font-size="7" fill="#2c2c2c" stroke="#2c2c2c" stroke-width="0.18"><tspan font-weight="bold" fill="#222">C:</tspan> TNFRSF14 (C96*)</text>
<text x="200.9" y="245.30" font-size="7" fill="#2c2c2c" stroke="#2c2c2c" stroke-width="0.18"><tspan font-weight="bold" fill="#222">D:</tspan> TNFRSF14 (Q163*)</text>
<text x="305.20" y="139.10" font-size="17.0" fill="#000" font-weight="bold" font-style="normal" text-anchor="start" stroke="#000" stroke-width="0.35" >D</text>
<text x="353.30" y="130.60" font-size="8.5" fill="#333" font-weight="normal" font-style="normal" text-anchor="middle" >Diagnosis</text>
<text x="417.30" y="130.60" font-size="8.2" fill="#333" font-weight="normal" font-style="normal" text-anchor="middle" >Relapse</text>
<rect x="334.6" y="132.50" width="5.4" height="14.97" fill="#fff"/>
<rect x="334.6" y="147.47" width="5.4" height="14.61" fill="#1a1a1a"/>
<rect x="334.6" y="162.07" width="5.4" height="11.90" fill="#fff"/>
<rect x="334.6" y="173.97" width="5.4" height="11.48" fill="#1a1a1a"/>
<rect x="334.6" y="185.45" width="5.4" height="10.88" fill="#fff"/>
<rect x="334.6" y="196.33" width="5.4" height="10.28" fill="#1a1a1a"/>
<rect x="334.6" y="206.61" width="5.4" height="9.56" fill="#fff"/>
<rect x="334.6" y="216.16" width="5.4" height="8.78" fill="#1a1a1a"/>
<rect x="334.6" y="224.94" width="5.4" height="8.47" fill="#fff"/>
<rect x="334.6" y="233.41" width="5.4" height="8.17" fill="#1a1a1a"/>
<rect x="334.6" y="241.59" width="5.4" height="8.11" fill="#fff"/>
<rect x="334.6" y="249.70" width="5.4" height="8.05" fill="#1a1a1a"/>
<rect x="334.6" y="257.76" width="5.4" height="6.91" fill="#fff"/>
<rect x="334.6" y="264.67" width="5.4" height="6.43" fill="#1a1a1a"/>
<rect x="334.6" y="271.10" width="5.4" height="6.19" fill="#fff"/>
<rect x="334.6" y="277.29" width="5.4" height="5.41" fill="#1a1a1a"/>
<rect x="334.6" y="282.70" width="5.4" height="4.87" fill="#fff"/>
<rect x="334.6" y="287.57" width="5.4" height="4.69" fill="#1a1a1a"/>
<rect x="334.6" y="292.25" width="5.4" height="3.55" fill="#fff"/>
<rect x="334.6" y="295.80" width="5.4" height="3.79" fill="#1a1a1a"/>
<rect x="334.6" y="299.59" width="5.4" height="2.88" fill="#fff"/>
<rect x="334.6" y="302.47" width="5.4" height="3.07" fill="#1a1a1a"/>
<rect x="334.6" y="305.54" width="5.4" height="9.32" fill="#fff"/>
<rect x="334.6" y="314.85" width="5.4" height="3.55" fill="#777"/>
<rect x="334.6" y="132.5" width="5.4" height="185.89999999999998" fill="none" stroke="#444" stroke-width="0.9"/>
<text x="329.80" y="142.00" font-size="6.2" fill="#222" font-weight="normal" font-style="normal" text-anchor="end" stroke="#222" stroke-width="0.15" >1</text>
<text x="329.80" y="157.70" font-size="6.2" fill="#222" font-weight="normal" font-style="normal" text-anchor="end" stroke="#222" stroke-width="0.15" >2</text>
<text x="329.80" y="170.80" font-size="6.2" fill="#222" font-weight="normal" font-style="normal" text-anchor="end" stroke="#222" stroke-width="0.15" >3</text>
<text x="329.80" y="182.60" font-size="6.2" fill="#222" font-weight="normal" font-style="normal" text-anchor="end" stroke="#222" stroke-width="0.15" >4</text>
<text x="329.80" y="194.10" font-size="6.2" fill="#222" font-weight="normal" font-style="normal" text-anchor="end" stroke="#222" stroke-width="0.15" >5</text>
<text x="329.80" y="204.20" font-size="6.2" fill="#222" font-weight="normal" font-style="normal" text-anchor="end" stroke="#222" stroke-width="0.15" >6</text>
<text x="329.80" y="213.60" font-size="6.2" fill="#222" font-weight="normal" font-style="normal" text-anchor="end" stroke="#222" stroke-width="0.15" >7</text>
<text x="329.80" y="223.80" font-size="6.2" fill="#222" font-weight="normal" font-style="normal" text-anchor="end" stroke="#222" stroke-width="0.15" >8</text>
<text x="329.80" y="231.80" font-size="6.2" fill="#222" font-weight="normal" font-style="normal" text-anchor="end" stroke="#222" stroke-width="0.15" >9</text>
<text x="329.80" y="240.60" font-size="6.2" fill="#222" font-weight="normal" font-style="normal" text-anchor="end" stroke="#222" stroke-width="0.15" >10</text>
<text x="329.80" y="248.60" font-size="6.2" fill="#222" font-weight="normal" font-style="normal" text-anchor="end" stroke="#222" stroke-width="0.15" >11</text>
<text x="329.80" y="256.70" font-size="6.2" fill="#222" font-weight="normal" font-style="normal" text-anchor="end" stroke="#222" stroke-width="0.15" >12</text>
<text x="329.80" y="264.40" font-size="6.2" fill="#222" font-weight="normal" font-style="normal" text-anchor="end" stroke="#222" stroke-width="0.15" >13</text>
<text x="329.80" y="270.50" font-size="6.2" fill="#222" font-weight="normal" font-style="normal" text-anchor="end" stroke="#222" stroke-width="0.15" >14</text>
<text x="329.80" y="277.60" font-size="6.2" fill="#222" font-weight="normal" font-style="normal" text-anchor="end" stroke="#222" stroke-width="0.15" >15</text>
<text x="329.80" y="283.50" font-size="6.2" fill="#222" font-weight="normal" font-style="normal" text-anchor="end" stroke="#222" stroke-width="0.15" >16</text>
<text x="329.80" y="292.20" font-size="6.2" fill="#222" font-weight="normal" font-style="normal" text-anchor="end" stroke="#222" stroke-width="0.15" >18</text>
<text x="329.80" y="300.20" font-size="6.2" fill="#222" font-weight="normal" font-style="normal" text-anchor="end" stroke="#222" stroke-width="0.15" >20</text>
<text x="329.80" y="307.40" font-size="6.2" fill="#222" font-weight="normal" font-style="normal" text-anchor="end" stroke="#222" stroke-width="0.15" >22</text>
<text x="329.80" y="313.50" font-size="6.2" fill="#222" font-weight="normal" font-style="normal" text-anchor="end" stroke="#222" stroke-width="0.15" >X</text>
<text x="329.80" y="318.80" font-size="6.2" fill="#222" font-weight="normal" font-style="normal" text-anchor="end" stroke="#222" stroke-width="0.15" >Y</text>
<text transform="translate(320.0,225.0) rotate(-90)" font-size="8.4" fill="#333" text-anchor="middle">Chromosome</text>
<rect x="342.2" y="139.0" width="29.0" height="2.4" fill="#f9d4d8"/>
<rect x="342.2" y="141.3" width="29.0" height="6.2" fill="#f4a2ac"/>
<rect x="342.2" y="153.0" width="29.0" height="8.7" fill="#f4a8b0"/>
<rect x="342.2" y="200.4" width="29.0" height="5.6" fill="#3b4ea6"/>
<rect x="342.2" y="276.0" width="29.0" height="1.5" fill="#3b4ea6"/>
<line x1="342.2" y1="147.47" x2="371.2" y2="147.47" stroke="#999" stroke-width="0.9"/>
<line x1="342.2" y1="162.07" x2="371.2" y2="162.07" stroke="#999" stroke-width="0.9"/>
<line x1="342.2" y1="173.97" x2="371.2" y2="173.97" stroke="#999" stroke-width="0.9"/>
<line x1="342.2" y1="185.45" x2="371.2" y2="185.45" stroke="#999" stroke-width="0.9"/>
<line x1="342.2" y1="196.33" x2="371.2" y2="196.33" stroke="#999" stroke-width="0.9"/>
<line x1="342.2" y1="206.61" x2="371.2" y2="206.61" stroke="#999" stroke-width="0.9"/>
<line x1="342.2" y1="216.16" x2="371.2" y2="216.16" stroke="#999" stroke-width="0.9"/>
<line x1="342.2" y1="224.94" x2="371.2" y2="224.94" stroke="#999" stroke-width="0.9"/>
<line x1="342.2" y1="233.41" x2="371.2" y2="233.41" stroke="#999" stroke-width="0.9"/>
<line x1="342.2" y1="241.59" x2="371.2" y2="241.59" stroke="#999" stroke-width="0.9"/>
<line x1="342.2" y1="249.70" x2="371.2" y2="249.70" stroke="#999" stroke-width="0.9"/>
<line x1="342.2" y1="257.76" x2="371.2" y2="257.76" stroke="#999" stroke-width="0.9"/>
<line x1="342.2" y1="264.67" x2="371.2" y2="264.67" stroke="#999" stroke-width="0.9"/>
<line x1="342.2" y1="271.10" x2="371.2" y2="271.10" stroke="#999" stroke-width="0.9"/>
<line x1="342.2" y1="277.29" x2="371.2" y2="277.29" stroke="#999" stroke-width="0.9"/>
<line x1="342.2" y1="282.70" x2="371.2" y2="282.70" stroke="#999" stroke-width="0.9"/>
<line x1="342.2" y1="287.57" x2="371.2" y2="287.57" stroke="#999" stroke-width="0.9"/>
<line x1="342.2" y1="292.25" x2="371.2" y2="292.25" stroke="#999" stroke-width="0.9"/>
<line x1="342.2" y1="295.80" x2="371.2" y2="295.80" stroke="#999" stroke-width="0.9"/>
<line x1="342.2" y1="299.59" x2="371.2" y2="299.59" stroke="#999" stroke-width="0.9"/>
<line x1="342.2" y1="302.47" x2="371.2" y2="302.47" stroke="#999" stroke-width="0.9"/>
<line x1="342.2" y1="305.54" x2="371.2" y2="305.54" stroke="#999" stroke-width="0.9"/>
<line x1="342.2" y1="314.85" x2="371.2" y2="314.85" stroke="#999" stroke-width="0.9"/>
<rect x="342.2" y="132.5" width="29.0" height="185.89999999999998" fill="none" stroke="#8a8a8a" stroke-width="1"/>
<line x1="405.6" y1="147.47" x2="433.5" y2="147.47" stroke="#999" stroke-width="0.9"/>
<line x1="405.6" y1="162.07" x2="433.5" y2="162.07" stroke="#999" stroke-width="0.9"/>
<line x1="405.6" y1="173.97" x2="433.5" y2="173.97" stroke="#999" stroke-width="0.9"/>
<line x1="405.6" y1="185.45" x2="433.5" y2="185.45" stroke="#999" stroke-width="0.9"/>
<line x1="405.6" y1="196.33" x2="433.5" y2="196.33" stroke="#999" stroke-width="0.9"/>
<line x1="405.6" y1="206.61" x2="433.5" y2="206.61" stroke="#999" stroke-width="0.9"/>
<line x1="405.6" y1="216.16" x2="433.5" y2="216.16" stroke="#999" stroke-width="0.9"/>
<line x1="405.6" y1="224.94" x2="433.5" y2="224.94" stroke="#999" stroke-width="0.9"/>
<line x1="405.6" y1="233.41" x2="433.5" y2="233.41" stroke="#999" stroke-width="0.9"/>
<line x1="405.6" y1="241.59" x2="433.5" y2="241.59" stroke="#999" stroke-width="0.9"/>
<line x1="405.6" y1="249.70" x2="433.5" y2="249.70" stroke="#999" stroke-width="0.9"/>
<line x1="405.6" y1="257.76" x2="433.5" y2="257.76" stroke="#999" stroke-width="0.9"/>
<line x1="405.6" y1="264.67" x2="433.5" y2="264.67" stroke="#999" stroke-width="0.9"/>
<line x1="405.6" y1="271.10" x2="433.5" y2="271.10" stroke="#999" stroke-width="0.9"/>
<line x1="405.6" y1="277.29" x2="433.5" y2="277.29" stroke="#999" stroke-width="0.9"/>
<line x1="405.6" y1="282.70" x2="433.5" y2="282.70" stroke="#999" stroke-width="0.9"/>
<line x1="405.6" y1="287.57" x2="433.5" y2="287.57" stroke="#999" stroke-width="0.9"/>
<line x1="405.6" y1="292.25" x2="433.5" y2="292.25" stroke="#999" stroke-width="0.9"/>
<line x1="405.6" y1="295.80" x2="433.5" y2="295.80" stroke="#999" stroke-width="0.9"/>
<line x1="405.6" y1="299.59" x2="433.5" y2="299.59" stroke="#999" stroke-width="0.9"/>
<line x1="405.6" y1="302.47" x2="433.5" y2="302.47" stroke="#999" stroke-width="0.9"/>
<line x1="405.6" y1="305.54" x2="433.5" y2="305.54" stroke="#999" stroke-width="0.9"/>
<line x1="405.6" y1="314.85" x2="433.5" y2="314.85" stroke="#999" stroke-width="0.9"/>
<line x1="405.6" y1="200.10" x2="433.5" y2="200.10" stroke="#bbb" stroke-width="0.7"/>
<line x1="405.6" y1="235.50" x2="433.5" y2="235.50" stroke="#bbb" stroke-width="0.7"/>
<line x1="405.6" y1="245.60" x2="433.5" y2="245.60" stroke="#bbb" stroke-width="0.7"/>
<line x1="405.6" y1="280.00" x2="433.5" y2="280.00" stroke="#bbb" stroke-width="0.7"/>
<rect x="405.6" y="132.5" width="27.899999999999977" height="185.89999999999998" fill="none" stroke="#8a8a8a" stroke-width="1"/>
<path d="M373.0,143.8 L380.6,140.9 L380.6,146.70000000000002 Z" fill="#a82638" stroke="#a82638" stroke-width="0.3"/>
<text x="382.40" y="146.10" font-size="6.6" fill="#2a2a2a" font-weight="bold" font-style="normal" text-anchor="start" letter-spacing="0.3">+1q</text>
<path d="M396.9,141.3 L404.3,143.8 L396.9,146.3 Z" fill="#fff" stroke="#222" stroke-width="1.0"/>
<path d="M373.0,156.9 L380.6,154.0 L380.6,159.8 Z" fill="#a82638" stroke="#a82638" stroke-width="0.3"/>
<text x="382.40" y="159.20" font-size="6.6" fill="#2a2a2a" font-weight="bold" font-style="normal" text-anchor="start" letter-spacing="0.3">+2p</text>
<path d="M396.9,154.4 L404.3,156.9 L396.9,159.4 Z" fill="#fff" stroke="#222" stroke-width="1.0"/>
<path d="M373.0,203.5 L380.6,200.6 L380.6,206.4 Z" fill="#2e3a86" stroke="#2e3a86" stroke-width="0.3"/>
<text x="383.60" y="205.80" font-size="6.6" fill="#2a2a2a" font-weight="bold" font-style="normal" text-anchor="start" letter-spacing="0.3">-6q</text>
<path d="M396.9,201.0 L404.3,203.5 L396.9,206.0 Z" fill="#fff" stroke="#222" stroke-width="1.0"/>
<path d="M373.0,276.6 L380.6,273.70000000000005 L380.6,279.5 Z" fill="#2e3a86" stroke="#2e3a86" stroke-width="0.3"/>
<text x="381.20" y="278.90" font-size="6.6" fill="#2a2a2a" font-weight="bold" font-style="normal" text-anchor="start" letter-spacing="0.3">-15q</text>
<path d="M396.9,274.1 L404.3,276.6 L396.9,279.1 Z" fill="#fff" stroke="#222" stroke-width="1.0"/>
<text x="476.80" y="174.60" font-size="5.2" fill="#222" font-weight="normal" font-style="normal" text-anchor="middle" stroke="#222" stroke-width="0.08" >DNA Copy Number</text>
<defs><linearGradient id="cn" x1="0" y1="0" x2="0" y2="1"><stop offset="0" stop-color="#2f3e98"/><stop offset="0.205" stop-color="#2f3e98"/><stop offset="0.205" stop-color="#3d4ca4"/><stop offset="0.274" stop-color="#3d4ca4"/><stop offset="0.274" stop-color="#6e72ba"/><stop offset="0.321" stop-color="#6e72ba"/><stop offset="0.321" stop-color="#9c9bcf"/><stop offset="0.367" stop-color="#9c9bcf"/><stop offset="0.367" stop-color="#c9c7e4"/><stop offset="0.425" stop-color="#c9c7e4"/><stop offset="0.425" stop-color="#f7f7fa"/><stop offset="0.494" stop-color="#f7f7fa"/><stop offset="0.494" stop-color="#f8e4e8"/><stop offset="0.587" stop-color="#f8e4e8"/><stop offset="0.587" stop-color="#f2c6cf"/><stop offset="0.68" stop-color="#f2c6cf"/><stop offset="0.68" stop-color="#eba0ae"/><stop offset="0.865" stop-color="#eba0ae"/><stop offset="0.865" stop-color="#e35c70"/><stop offset="1.0" stop-color="#e35c70"/></linearGradient></defs>
<rect x="473.2" y="181.3" width="5.4" height="86.4" fill="url(#cn)" stroke="#aaa" stroke-width="0.5"/>
<line x1="473.2" y1="224.3" x2="478.6" y2="224.3" stroke="#555" stroke-width="0.6"/>
<text x="479.80" y="183.90" font-size="7" fill="#2a2a2a" font-weight="normal" font-style="normal" text-anchor="start" stroke="#2a2a2a" stroke-width="0.08" >0.0</text>
<text x="479.80" y="203.90" font-size="7" fill="#2a2a2a" font-weight="normal" font-style="normal" text-anchor="start" stroke="#2a2a2a" stroke-width="0.08" >1.0</text>
<text x="479.80" y="226.30" font-size="7" fill="#2a2a2a" font-weight="normal" font-style="normal" text-anchor="start" stroke="#2a2a2a" stroke-width="0.08" >2.0</text>
<text x="479.80" y="251.00" font-size="7" fill="#2a2a2a" font-weight="normal" font-style="normal" text-anchor="start" stroke="#2a2a2a" stroke-width="0.08" >3.0</text>
<text x="479.80" y="268.80" font-size="7" fill="#2a2a2a" font-weight="normal" font-style="normal" text-anchor="start" stroke="#2a2a2a" stroke-width="0.08" >4.0</text>
</svg>
</body></html>
